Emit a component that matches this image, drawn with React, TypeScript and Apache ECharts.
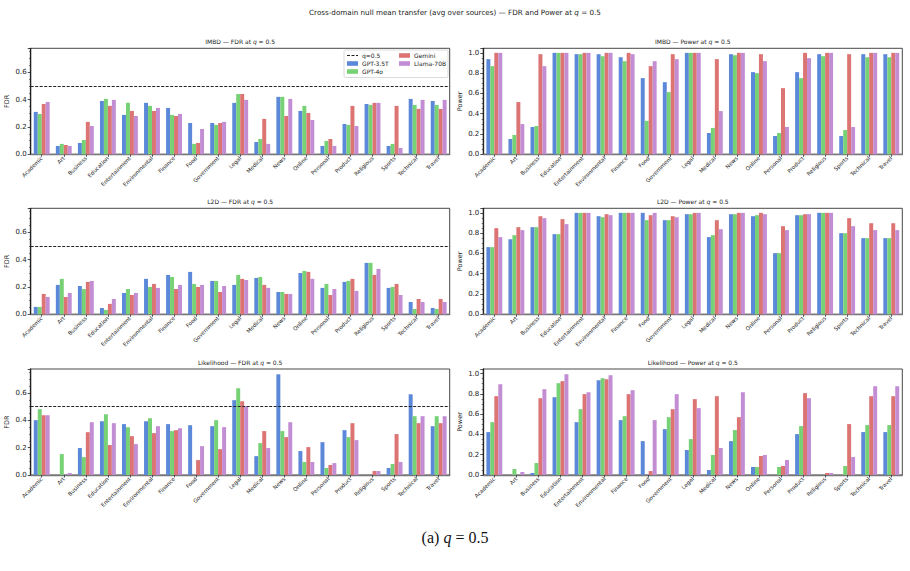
import React, { useEffect, useRef } from "react";
import * as echarts from "echarts";

const categories = [
  "Academic", "Art", "Business", "Education", "Entertainment", "Environmental",
  "Finance", "Food", "Government", "Legal", "Medical", "News", "Online",
  "Personal", "Product", "Religious", "Sports", "Technical", "Travel",
];
const modelNames = ["GPT-3.5T", "GPT-4o", "Gemini", "Llama-70B"];
const qLevel = 0.5;

// IMBD — FDR
const imbdFdrGpt35 = [0.31, 0.061, 0.083, 0.39, 0.288, 0.376, 0.339, 0.229, 0.229, 0.376, 0.09, 0.42, 0.317, 0.061, 0.222, 0.368, 0.061, 0.405, 0.39];
const imbdFdrGpt4o = [0.295, 0.076, 0.105, 0.405, 0.376, 0.354, 0.288, 0.076, 0.215, 0.441, 0.112, 0.42, 0.354, 0.098, 0.215, 0.361, 0.076, 0.361, 0.361];
const imbdFdrGemini = [0.368, 0.068, 0.237, 0.354, 0.317, 0.317, 0.28, 0.083, 0.229, 0.441, 0.259, 0.28, 0.302, 0.112, 0.354, 0.376, 0.354, 0.332, 0.332];
const imbdFdrLlama = [0.383, 0.061, 0.207, 0.398, 0.28, 0.339, 0.295, 0.185, 0.237, 0.398, 0.076, 0.405, 0.251, 0.061, 0.207, 0.376, 0.046, 0.398, 0.398];

// IMBD — Power
const imbdPowGpt35 = [0.938, 0.151, 0.269, 1.0, 0.987, 0.987, 0.957, 0.751, 0.711, 1.0, 0.21, 0.987, 0.81, 0.18, 0.81, 0.987, 0.18, 0.987, 0.987];
const imbdPowGpt4o = [0.869, 0.19, 0.279, 1.0, 0.987, 0.967, 0.918, 0.33, 0.613, 1.0, 0.26, 0.977, 0.8, 0.21, 0.751, 0.967, 0.239, 0.957, 0.957];
const imbdPowGemini = [1.0, 0.515, 0.987, 1.0, 1.0, 1.0, 1.0, 0.869, 0.987, 1.0, 0.938, 1.0, 0.987, 0.652, 1.0, 1.0, 0.987, 1.0, 1.0];
const imbdPowLlama = [1.0, 0.298, 0.869, 1.0, 1.0, 1.0, 0.987, 0.918, 0.938, 1.0, 0.426, 1.0, 0.918, 0.269, 0.948, 1.0, 0.269, 1.0, 1.0];

// L2D — FDR
const l2dFdrGpt35 = [0.054, 0.215, 0.207, 0.046, 0.156, 0.259, 0.288, 0.31, 0.244, 0.215, 0.266, 0.163, 0.302, 0.193, 0.237, 0.376, 0.193, 0.09, 0.046];
const l2dFdrGpt4o = [0.054, 0.259, 0.185, 0.032, 0.185, 0.2, 0.273, 0.222, 0.244, 0.288, 0.273, 0.163, 0.317, 0.222, 0.244, 0.376, 0.2, 0.039, 0.039];
const l2dFdrGemini = [0.149, 0.127, 0.237, 0.076, 0.141, 0.222, 0.185, 0.2, 0.163, 0.259, 0.215, 0.149, 0.31, 0.141, 0.259, 0.288, 0.222, 0.112, 0.112];
const l2dFdrLlama = [0.127, 0.156, 0.244, 0.112, 0.156, 0.193, 0.215, 0.215, 0.207, 0.251, 0.193, 0.149, 0.259, 0.185, 0.171, 0.332, 0.141, 0.09, 0.09];

// L2D — Power
const l2dPowGpt35 = [0.662, 0.741, 0.859, 0.79, 1.0, 0.967, 1.0, 1.0, 0.928, 0.987, 0.761, 0.987, 0.967, 0.603, 0.977, 1.0, 0.8, 0.751, 0.751];
const l2dPowGpt4o = [0.662, 0.78, 0.859, 0.79, 1.0, 0.957, 1.0, 0.928, 0.928, 0.987, 0.78, 0.987, 0.977, 0.603, 0.977, 1.0, 0.8, 0.751, 0.751];
const l2dPowGemini = [0.849, 0.859, 0.967, 0.938, 1.0, 0.987, 1.0, 0.977, 0.967, 1.0, 0.928, 1.0, 1.0, 0.869, 0.987, 1.0, 0.948, 0.898, 0.898];
const l2dPowLlama = [0.761, 0.83, 0.948, 0.889, 1.0, 0.977, 1.0, 1.0, 0.957, 1.0, 0.839, 1.0, 0.987, 0.83, 0.987, 1.0, 0.869, 0.83, 0.83];

// Likelihood — FDR
const likFdrGpt35 = [0.401, 0, 0.197, 0.393, 0.372, 0.393, 0.372, 0.364, 0.357, 0.547, 0.138, 0.736, 0.175, 0.24, 0.328, 0, 0.051, 0.59, 0.357];
const likFdrGpt4o = [0.481, 0.153, 0.131, 0.444, 0.35, 0.415, 0.321, 0, 0.401, 0.634, 0.233, 0.321, 0.095, 0.051, 0.277, 0, 0.08, 0.43, 0.43];
const likFdrGemini = [0.437, 0, 0.313, 0.219, 0.284, 0.306, 0.328, 0.109, 0.189, 0.539, 0.321, 0.277, 0.204, 0.073, 0.379, 0.029, 0.299, 0.379, 0.379];
const likFdrLlama = [0.437, 0.015, 0.386, 0.379, 0.226, 0.357, 0.342, 0.211, 0.35, 0.503, 0.197, 0.386, 0.095, 0.087, 0.255, 0.029, 0.095, 0.43, 0.43];

// Likelihood — Power
const likPowGpt35 = [0.423, 0, 0.02, 0.767, 0.521, 0.934, 0.541, 0.334, 0.452, 0.246, 0.049, 0.334, 0.079, 0, 0.403, 0, 0, 0.423, 0.423];
const likPowGpt4o = [0.521, 0.059, 0.118, 0.905, 0.649, 0.954, 0.58, 0, 0.57, 0.354, 0.197, 0.443, 0.079, 0.079, 0.482, 0, 0.089, 0.492, 0.492];
const likPowGemini = [0.777, 0, 0.757, 0.925, 0.797, 0.944, 0.797, 0.039, 0.649, 0.748, 0.777, 0.57, 0.187, 0.089, 0.807, 0.02, 0.502, 0.777, 0.777];
const likPowLlama = [0.895, 0.03, 0.846, 0.993, 0.816, 0.984, 0.836, 0.541, 0.797, 0.659, 0.266, 0.816, 0.197, 0.148, 0.757, 0.02, 0.177, 0.875, 0.875];

const panelNames = ["IMBD", "IMBD", "L2D", "L2D", "Likelihood", "Likelihood"];
const panelMetrics = ["FDR", "Power", "FDR", "Power", "FDR", "Power"];
const panelData = [
  [imbdFdrGpt35, imbdFdrGpt4o, imbdFdrGemini, imbdFdrLlama],
  [imbdPowGpt35, imbdPowGpt4o, imbdPowGemini, imbdPowLlama],
  [l2dFdrGpt35, l2dFdrGpt4o, l2dFdrGemini, l2dFdrLlama],
  [l2dPowGpt35, l2dPowGpt4o, l2dPowGemini, l2dPowLlama],
  [likFdrGpt35, likFdrGpt4o, likFdrGemini, likFdrLlama],
  [likPowGpt35, likPowGpt4o, likPowGemini, likPowLlama],
];

const colors = ["#5b88d9", "#77d175", "#dc7474", "#c38dd4"];
const FONT = "DejaVu Sans";

const colLeft = [30.7, 483.3];
const rowTop = [48.3, 208.3, 369];
const gW = 419;
const gH = 106;

export default function App() {
  const ref = useRef<HTMLDivElement>(null);
  useEffect(() => {
    if (!ref.current) return;
    const chart = echarts.init(ref.current, undefined, { renderer: "svg" });

    const grids: any[] = [];
    const xAxes: any[] = [];
    const yAxes: any[] = [];
    const series: any[] = [];
    const graphics: any[] = [];

    panelData.forEach((sets, i) => {
      const row = Math.floor(i / 2);
      const col = i % 2;
      const isFdr = panelMetrics[i] === "FDR";
      grids.push({
        left: colLeft[col], top: rowTop[row], width: gW, height: gH,
        show: true, borderColor: "#333", borderWidth: 0.9, backgroundColor: "transparent",
      });
      xAxes.push({
        type: "category", gridIndex: i, data: categories,
        axisLabel: { rotate: 45, fontSize: 5.5, color: "#222", margin: 3, interval: 0, fontFamily: FONT },
        axisTick: { show: true, alignWithLabel: true, length: 2.5, lineStyle: { color: "#333", width: 0.8 } },
        axisLine: { show: true, lineStyle: { color: "#777", width: 1.4 } },
      });
      yAxes.push({
        type: "value", gridIndex: i, min: 0, max: isFdr ? 0.775 : 1.045, interval: 0.2,
        name: panelMetrics[i], nameLocation: "middle", nameGap: 20,
        nameTextStyle: { fontSize: 6.5, color: "#222", fontFamily: FONT },
        axisLabel: {
          fontSize: 7, color: "#222", margin: 4, fontFamily: FONT,
          formatter: (v: number) => (Math.abs(v * 5 - Math.round(v * 5)) < 1e-6 ? v.toFixed(1) : ""),
        },
        axisTick: { show: true, length: 3, lineStyle: { color: "#222", width: 0.8 } },
        minorTick: { show: true, splitNumber: 4, length: 1.6, lineStyle: { color: "#222", width: 0.6 } },
        splitLine: { show: false },
        minorSplitLine: { show: false },
        axisLine: { show: true, lineStyle: { color: "#222", width: 1.3 } },
      });
      sets.forEach((vals, m) => {
        const s: any = {
          type: "bar", name: modelNames[m], xAxisIndex: i, yAxisIndex: i, data: vals,
          barWidth: "18%", barGap: "0%", itemStyle: { color: colors[m] },
        };
        if (isFdr && m === 0) {
          s.markLine = {
            silent: true, symbol: "none", label: { show: false },
            lineStyle: { type: [3, 1.5], color: "#222", width: 1 },
            data: [{ yAxis: qLevel }],
          };
        }
        series.push(s);
      });
      graphics.push({
        type: "text", left: undefined,
        x: colLeft[col] + gW / 2, y: rowTop[row] - 7,
        style: {
          text: `{n|${panelNames[i]} — ${panelMetrics[i]} at }{i|q}{n| = 0.5}`,
          align: "center", verticalAlign: "middle",
          rich: {
            n: { fontSize: 6, fontFamily: FONT, fill: "#222" },
            i: { fontSize: 6, fontFamily: FONT, fontStyle: "italic", fill: "#222" },
          },
        },
      });
    });

    // main title
    graphics.push({
      type: "text", x: 455, y: 12,
      style: {
        text: "{n|Cross-domain null mean transfer (avg over sources) — FDR and Power at }{i|q}{n| = 0.5}",
        align: "center", verticalAlign: "middle",
        rich: {
          n: { fontSize: 7.2, fontFamily: FONT, fill: "#222" },
          i: { fontSize: 7.2, fontFamily: FONT, fontStyle: "italic", fill: "#222" },
        },
      },
    });

    // caption
    graphics.push({
      type: "text", x: 455, y: 537,
      style: {
        text: "{n|(a) }{i|q}{n| = 0.5}",
        align: "center", verticalAlign: "middle",
        rich: {
          n: { fontSize: 16, fontFamily: "Liberation Serif", fill: "#111" },
          i: { fontSize: 16, fontFamily: "Liberation Serif", fontStyle: "italic", fill: "#111" },
        },
      },
    });

    // legend inside IMBD FDR panel
    const lx = 344, ly = 50;
    const legendChildren: any[] = [
      { type: "rect", shape: { x: 0, y: 0, width: 104, height: 27.5, r: 1.5 }, style: { fill: "rgba(255,255,255,0.9)", stroke: "#ccc", lineWidth: 0.7 } },
      { type: "line", shape: { x1: 3, y1: 5.5, x2: 14, y2: 5.5 }, style: { stroke: "#222", lineWidth: 1, lineDash: [3, 1.5] } },
      { type: "text", x: 18, y: 5.5, style: { text: "q=0.5", fontSize: 6, fontFamily: FONT, fill: "#222", verticalAlign: "middle" } },
    ];
    const legendPos = [
      [3, 13.5], [3, 21.5], [55, 5.5], [55, 13.5],
    ];
    modelNames.forEach((name, m) => {
      const [px, py] = legendPos[m];
      legendChildren.push({ type: "rect", shape: { x: px, y: py - 2.3, width: 11, height: 4.6 }, style: { fill: colors[m] } });
      legendChildren.push({ type: "text", x: px + 15, y: py, style: { text: name, fontSize: 6, fontFamily: FONT, fill: "#222", verticalAlign: "middle" } });
    });
    graphics.push({ type: "group", x: lx, y: ly, children: legendChildren, z: 100 });

    chart.setOption({
      animation: false,
      backgroundColor: "#fff",
      textStyle: { fontFamily: FONT },
      grid: grids,
      xAxis: xAxes,
      yAxis: yAxes,
      series,
      graphic: graphics,
    });
    return () => chart.dispose();
  }, []);
  return <div ref={ref} style={{ position: "absolute", left: 0, top: 0, width: 910, height: 571 }} />;
}
